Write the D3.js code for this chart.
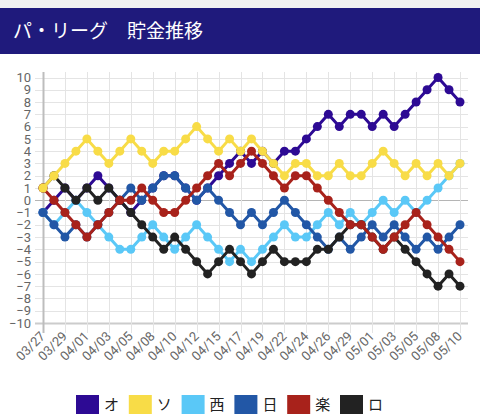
<!DOCTYPE html>
<html>
<head>
<meta charset="utf-8">
<script src="https://cdn.jsdelivr.net/npm/d3@7"></script>
<style>
  body { margin: 0; background: #fff; }
  #container { width: 480px; height: 420px; }
</style>
</head>
<body>
<div id="container"></div>
<script>
// Données : dates des matchs et貯金 par équipe
const dates = ["03/27","03/28","03/29","03/31","04/01","04/02","04/03","04/04","04/05","04/07",
  "04/08","04/09","04/10","04/11","04/12","04/14","04/15","04/16","04/17","04/18",
  "04/19","04/21","04/22","04/23","04/24","04/25","04/26","04/28","04/29","04/30",
  "05/01","05/02","05/03","05/04","05/05","05/06","05/08","05/09","05/10"];

const teams = ["オ", "ソ", "西", "日", "楽", "ロ"];
const teamColors = ["#2d0a94", "#f8dc47", "#5ac8f7", "#2257a6", "#a8221b", "#222222"];

const orix     = [-1,0,1,0,1,2,1,0,-1,0,1,2,2,1,0,1,2,3,4,3,4,3,4,4,5,6,7,6,7,7,6,7,6,7,8,9,10,9,8];
const softbank = [1,2,3,4,5,4,3,4,5,4,3,4,4,5,6,5,4,5,4,5,4,3,2,3,3,2,2,3,2,2,3,4,3,2,3,2,3,2,3];
const seibu    = [-1,-2,-1,0,-1,-2,-3,-4,-4,-3,-2,-3,-4,-3,-2,-3,-4,-5,-4,-5,-4,-3,-2,-3,-3,-2,-1,-2,-1,-2,-1,0,-1,0,-1,0,1,2,3];
const nippon   = [-1,-2,-3,-2,-3,-2,-1,0,1,0,1,2,2,1,0,1,0,-1,-2,-1,-2,-1,0,-1,-2,-3,-4,-3,-4,-3,-2,-3,-2,-3,-4,-3,-4,-3,-2];
const rakuten  = [1,0,-1,-2,-3,-2,-1,0,0,1,0,-1,-1,0,1,2,3,2,3,4,3,2,1,2,2,1,0,-1,-2,-2,-3,-4,-3,-2,-1,-2,-3,-4,-5];
const lotte    = [1,2,1,0,1,0,1,0,-1,-2,-3,-4,-3,-4,-5,-6,-5,-4,-5,-6,-5,-4,-5,-5,-5,-4,-4,-3,-2,-2,-3,-4,-3,-4,-5,-6,-7,-6,-7];

const yTicks = d3.range(-10, 11);

const main = (container) => {
  const W = 480, H = 420;
  const left = 43, right = 460, top = 77.5, bottom = 323;

  const svg = d3.select(container)
    .append("svg")
    .attr("width", W)
    .attr("height", H);

  // Bandeau du titre
  svg.append("rect").attr("x", 0).attr("y", 0).attr("width", W).attr("height", 8).attr("fill", "#f1f1f1");
  svg.append("rect").attr("x", 0).attr("y", 8).attr("width", W).attr("height", 46).attr("fill", "#1f1a7c");
  svg.append("text")
    .attr("x", 13)
    .attr("y", 38)
    .attr("fill", "#fff")
    .style("font-family", "'Noto Sans CJK JP', sans-serif")
    .style("font-size", "19px")
    .text("パ・リーグ　貯金推移");

  // Échelles
  const x = d3.scalePoint().domain(dates).range([left, right]);
  const y = d3.scaleLinear().domain([-10, 10]).range([bottom, top]);

  const shown = dates.filter((d, i) => i % 2 === 0);

  // Grille horizontale
  svg.append("g")
    .selectAll("line")
    .data(yTicks)
    .join("line")
    .attr("x1", left - 8)
    .attr("x2", 468)
    .attr("y1", d => Math.round(y(d)) + 0.5)
    .attr("y2", d => Math.round(y(d)) + 0.5)
    .attr("stroke", d => d === 0 ? "#b5b5b5" : (d === -10 ? "#cccccc" : "#e4e4e4"))
    .attr("stroke-width", d => d === -10 ? 2 : 1);

  // Grille verticale
  svg.append("g")
    .selectAll("line")
    .data(shown)
    .join("line")
    .attr("x1", d => Math.round(x(d)) + 0.5)
    .attr("x2", d => Math.round(x(d)) + 0.5)
    .attr("y1", 72)
    .attr("y2", bottom + 10)
    .attr("stroke", (d, i) => i === 0 ? "#bdbdbd" : "#e4e4e4")
    .attr("stroke-width", (d, i) => i === 0 ? 2 : 1);

  // Axe Y
  const yAxis = svg.append("g")
    .attr("transform", `translate(${left - 12},0)`)
    .call(d3.axisLeft(y).tickValues(yTicks).tickSize(0).tickPadding(0));
  yAxis.select(".domain").remove();
  yAxis.selectAll("text")
    .attr("fill", "#666")
    .style("font-family", "Roboto, sans-serif")
    .style("font-size", "13px");

  // Axe X
  svg.append("g")
    .selectAll("text")
    .data(shown)
    .join("text")
    .attr("transform", d => `translate(${x(d) + 3},${bottom + 14}) rotate(-45)`)
    .attr("text-anchor", "end")
    .attr("fill", "#666")
    .style("font-family", "Roboto, sans-serif")
    .style("font-size", "13px")
    .text(d => d);

  // Séries (ordre de dessin : du bas vers le haut)
  const series = [
    { name: "オ", values: orix, color: teamColors[0] },
    { name: "西", values: seibu, color: teamColors[2] },
    { name: "日", values: nippon, color: teamColors[3] },
    { name: "ロ", values: lotte, color: teamColors[5] },
    { name: "楽", values: rakuten, color: teamColors[4] },
    { name: "ソ", values: softbank, color: teamColors[1] }
  ];

  const line = d3.line()
    .x((d, i) => x(dates[i]))
    .y(d => y(d));

  series.forEach(s => {
    const g = svg.append("g");
    g.append("path")
      .datum(s.values)
      .attr("fill", "none")
      .attr("stroke", s.color)
      .attr("stroke-width", 3)
      .attr("stroke-linejoin", "round")
      .attr("d", line);
    g.selectAll("circle")
      .data(s.values)
      .join("circle")
      .attr("cx", (d, i) => x(dates[i]))
      .attr("cy", d => y(d))
      .attr("r", 4.5)
      .attr("fill", s.color);
  });

  // Légende
  const legend = svg.append("g")
    .selectAll("g")
    .data(teams)
    .join("g")
    .attr("transform", (d, i) => `translate(${76 + i * 52.8},395)`);

  legend.append("rect")
    .attr("width", 23)
    .attr("height", 19)
    .attr("fill", (d, i) => teamColors[i]);

  legend.append("text")
    .attr("x", 28)
    .attr("y", 10)
    .attr("dy", "0.35em")
    .attr("fill", "#222")
    .style("font-family", "'Noto Sans CJK JP', sans-serif")
    .style("font-size", "15px")
    .text(d => d);
};

const container = document.getElementById("container");
main(container);
</script>
</body>
</html>
